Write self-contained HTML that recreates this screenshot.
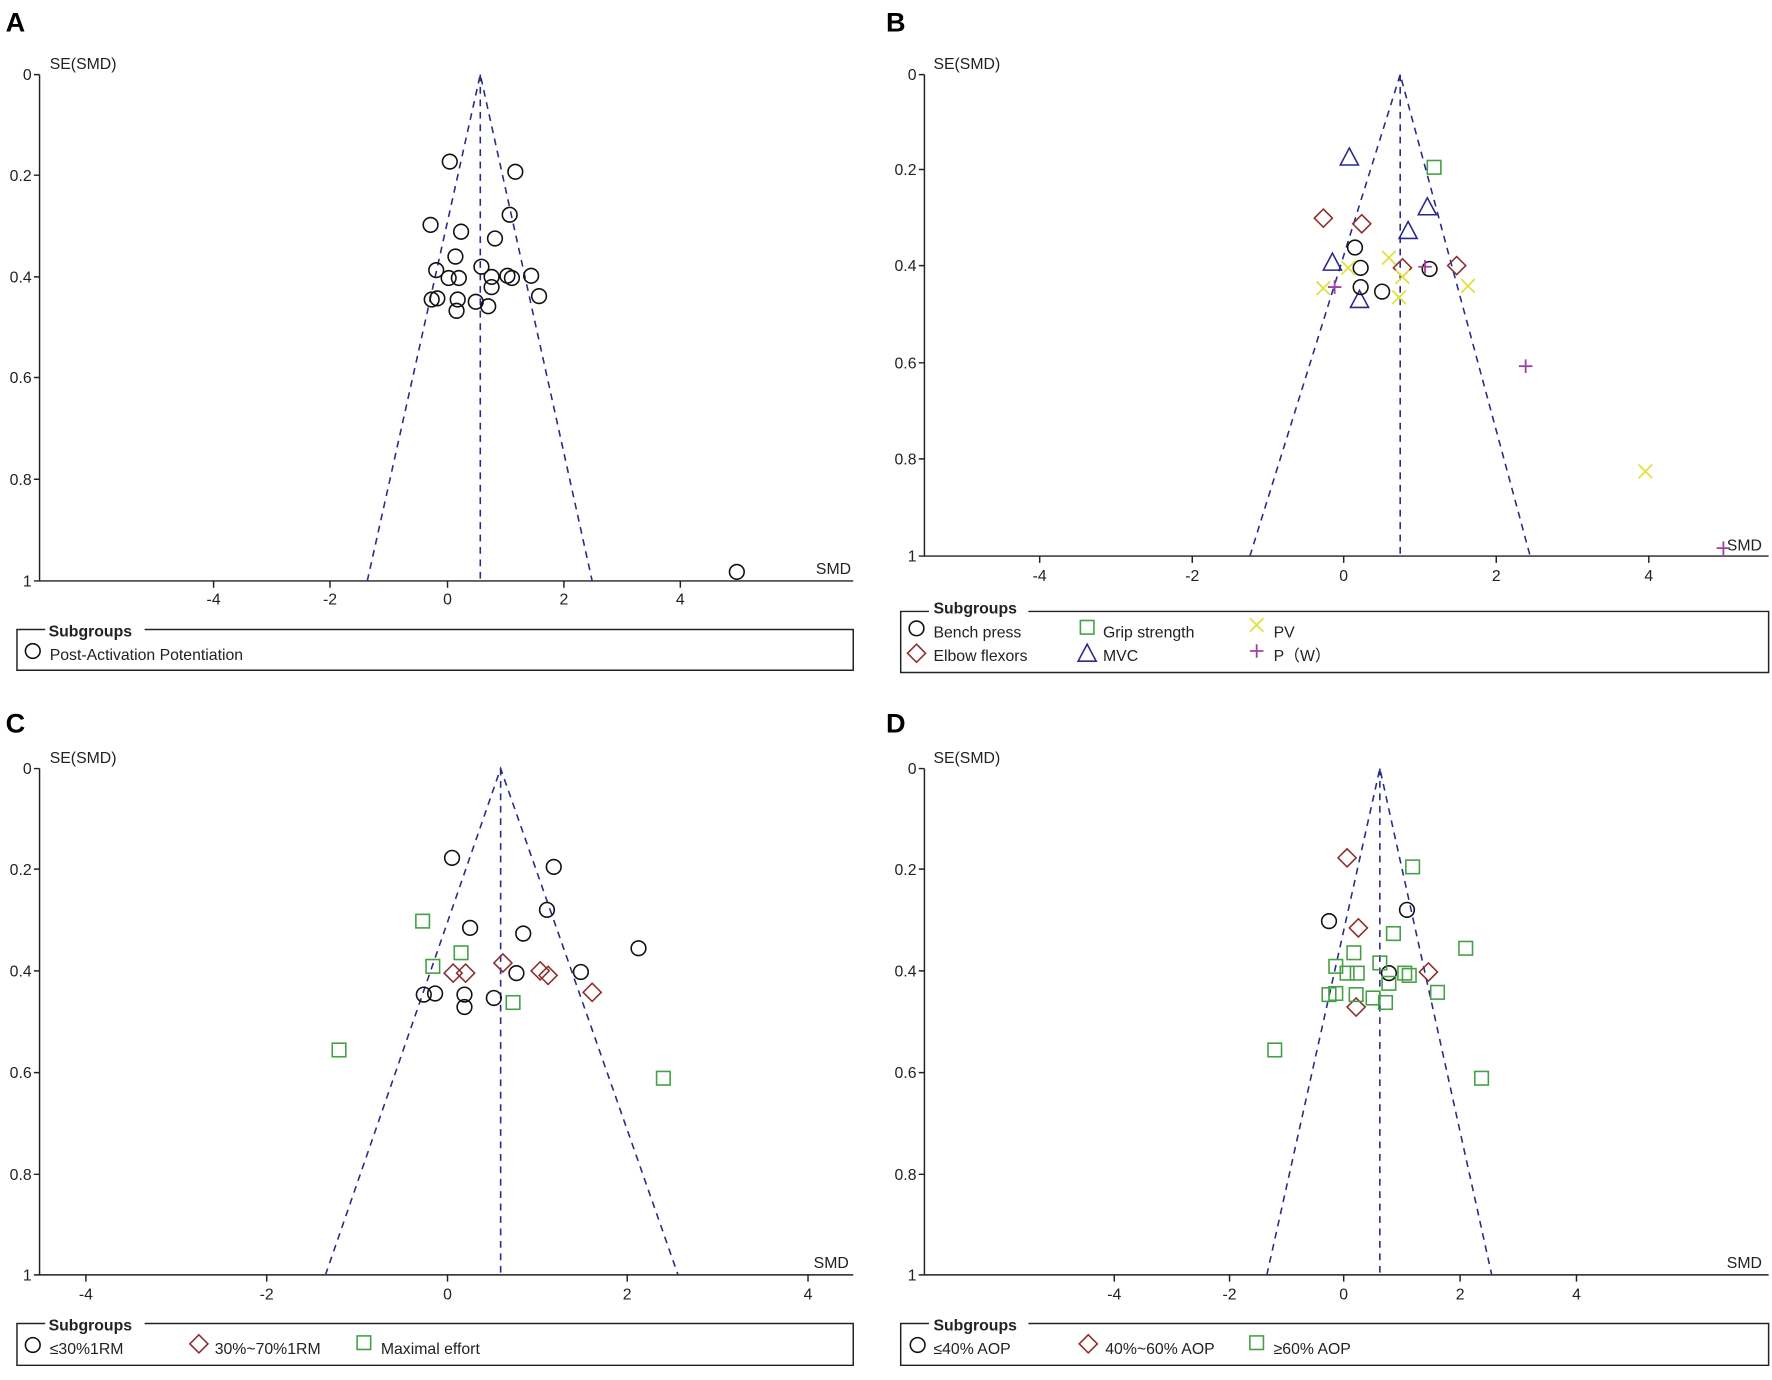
<!DOCTYPE html>
<html><head><meta charset="utf-8"><style>
html,body{margin:0;padding:0;background:#fff}
svg{display:block}
text{font-family:"Liberation Sans",sans-serif;font-size:14px;fill:#222}
.lab{font-size:24px;font-weight:bold;fill:#000}
.b{font-weight:bold}
.ax{stroke:#222;stroke-width:1.3;fill:none}
.fn{stroke:#2a2a8a;stroke-width:1.4;stroke-dasharray:6,5;fill:none}
</style></head><body>
<svg width="1772" height="1380" viewBox="0 0 1568 1221" preserveAspectRatio="none">
<defs>
<g id="ci"><circle r="6.5" fill="none" stroke="#111" stroke-width="1.4"/></g>
<g id="di"><path d="M0,-8 L8,0 L0,8 L-8,0Z" fill="none" stroke="#8b3030" stroke-width="1.4"/></g>
<g id="sq"><rect x="-6" y="-6" width="12" height="12" fill="none" stroke="#44a044" stroke-width="1.4"/></g>
<g id="tr"><path d="M0,-9 L8,6 L-8,6Z" fill="none" stroke="#2a2a8a" stroke-width="1.4"/></g>
<g id="xx"><path d="M-6,-6 L6,6 M-6,6 L6,-6" stroke="#e0e040" stroke-width="1.6"/></g>
<g id="pl"><path d="M-6,0 L6,0 M0,-6 L0,6" stroke="#a040a0" stroke-width="1.6"/></g>
</defs>

<text class="lab" x="5" y="28">A</text>
<text class="lab" x="784" y="28">B</text>
<text class="lab" x="5" y="648">C</text>
<text class="lab" x="784" y="648">D</text>

<!-- ===== A ===== -->
<text x="44" y="61">SE(SMD)</text>
<path class="ax" d="M35,66 V514 H755"/>
<g class="ax"><path d="M30,66H35M30,155H35M30,245H35M30,334H35M30,424H35M30,514H35"/>
<path d="M189,514V520M292,514V520M396,514V520M499,514V520M602,514V520"/></g>
<g text-anchor="end"><text x="28" y="71">0</text><text x="28" y="160">0.2</text><text x="28" y="250">0.4</text><text x="28" y="339">0.6</text><text x="28" y="429">0.8</text><text x="28" y="519">1</text></g>
<g text-anchor="middle"><text x="189" y="535">-4</text><text x="292" y="535">-2</text><text x="396" y="535">0</text><text x="499" y="535">2</text><text x="602" y="535">4</text></g>
<text x="722" y="508">SMD</text>
<path class="fn" d="M325,514 L425,66 L524,514 M425,66 V514"/>
<g>
<use href="#ci" x="398" y="143"/><use href="#ci" x="456" y="152"/><use href="#ci" x="451" y="190"/><use href="#ci" x="381" y="199"/>
<use href="#ci" x="408" y="205"/><use href="#ci" x="438" y="211"/><use href="#ci" x="403" y="227"/><use href="#ci" x="426" y="236"/>
<use href="#ci" x="386" y="239"/><use href="#ci" x="397" y="246"/><use href="#ci" x="406" y="246"/><use href="#ci" x="435" y="245"/>
<use href="#ci" x="449" y="244"/><use href="#ci" x="453" y="246"/><use href="#ci" x="470" y="244"/><use href="#ci" x="435" y="254"/>
<use href="#ci" x="477" y="262"/><use href="#ci" x="382" y="265"/><use href="#ci" x="387" y="264"/><use href="#ci" x="405" y="265"/>
<use href="#ci" x="421" y="267"/><use href="#ci" x="432" y="271"/><use href="#ci" x="404" y="275"/><use href="#ci" x="652" y="506"/>
</g>
<path class="ax" d="M40,557 H15 V593 H755 V557 H128"/>
<text class="b" x="43" y="563">Subgroups</text>
<use href="#ci" x="29" y="576"/><text x="44" y="584">Post-Activation Potentiation</text>

<!-- ===== B ===== -->
<text x="826" y="61">SE(SMD)</text>
<path class="ax" d="M818,66 V492 H1565"/>
<g class="ax"><path d="M813,66H818M813,150H818M813,235H818M813,321H818M813,406H818M813,492H818"/>
<path d="M920,492V498M1055,492V498M1189,492V498M1324,492V498M1459,492V498"/></g>
<g text-anchor="end"><text x="811" y="71">0</text><text x="811" y="155">0.2</text><text x="811" y="240">0.4</text><text x="811" y="326">0.6</text><text x="811" y="411">0.8</text><text x="811" y="497">1</text></g>
<g text-anchor="middle"><text x="920" y="514">-4</text><text x="1055" y="514">-2</text><text x="1189" y="514">0</text><text x="1324" y="514">2</text><text x="1459" y="514">4</text></g>
<text x="1528" y="487">SMD</text>
<path class="fn" d="M1106,492 L1239,66 L1354,492 M1239,66 V492"/>
<g>
<use href="#tr" x="1194" y="140"/><use href="#tr" x="1263" y="184"/><use href="#tr" x="1246" y="205"/><use href="#tr" x="1179" y="233"/><use href="#tr" x="1203" y="266"/>
<use href="#sq" x="1269" y="148"/>
<use href="#di" x="1171" y="193"/><use href="#di" x="1205" y="198"/><use href="#di" x="1241" y="237"/><use href="#di" x="1289" y="235"/>
<use href="#ci" x="1199" y="219"/><use href="#ci" x="1204" y="237"/><use href="#ci" x="1204" y="254"/><use href="#ci" x="1223" y="258"/><use href="#ci" x="1265" y="238"/>
<use href="#xx" x="1229" y="228"/><use href="#xx" x="1193" y="237"/><use href="#xx" x="1171" y="255"/><use href="#xx" x="1241" y="245"/><use href="#xx" x="1238" y="263"/><use href="#xx" x="1299" y="253"/><use href="#xx" x="1456" y="417"/>
<use href="#pl" x="1181" y="254"/><use href="#pl" x="1261" y="236"/><use href="#pl" x="1350" y="324"/><use href="#pl" x="1525" y="485"/>
</g>
<path class="ax" d="M822,541 H797 V595 H1565 V541 H910"/>
<text class="b" x="826" y="543">Subgroups</text>
<use href="#ci" x="811" y="556"/><text x="826" y="564">Bench press</text>
<use href="#di" x="811" y="578"/><text x="826" y="585">Elbow flexors</text>
<use href="#sq" x="962" y="555"/><text x="976" y="564">Grip strength</text>
<use href="#tr" x="962" y="579"/><text x="976" y="585">MVC</text>
<use href="#xx" x="1112" y="553"/><text x="1127" y="564">PV</text>
<use href="#pl" x="1112" y="576"/><text x="1127" y="585">P（W）</text>

<!-- ===== C ===== -->
<text x="44" y="675">SE(SMD)</text>
<path class="ax" d="M35,680 V1128 H755"/>
<g class="ax"><path d="M30,680H35M30,769H35M30,859H35M30,949H35M30,1039H35M30,1128H35"/>
<path d="M76,1128V1134M236,1128V1134M396,1128V1134M555,1128V1134M715,1128V1134"/></g>
<g text-anchor="end"><text x="28" y="685">0</text><text x="28" y="774">0.2</text><text x="28" y="864">0.4</text><text x="28" y="954">0.6</text><text x="28" y="1044">0.8</text><text x="28" y="1133">1</text></g>
<g text-anchor="middle"><text x="76" y="1150">-4</text><text x="236" y="1150">-2</text><text x="396" y="1150">0</text><text x="555" y="1150">2</text><text x="715" y="1150">4</text></g>
<text x="720" y="1122">SMD</text>
<path class="fn" d="M288,1128 L443,680 L600,1128 M443,680 V1128"/>
<g>
<use href="#ci" x="400" y="759"/><use href="#ci" x="490" y="767"/><use href="#ci" x="484" y="805"/><use href="#ci" x="416" y="821"/><use href="#ci" x="463" y="826"/>
<use href="#ci" x="565" y="839"/><use href="#ci" x="457" y="861"/><use href="#ci" x="514" y="860"/><use href="#ci" x="375" y="880"/><use href="#ci" x="385" y="879"/>
<use href="#ci" x="411" y="880"/><use href="#ci" x="411" y="891"/><use href="#ci" x="437" y="883"/>
<use href="#sq" x="374" y="815"/><use href="#sq" x="408" y="843"/><use href="#sq" x="383" y="855"/><use href="#sq" x="454" y="887"/><use href="#sq" x="300" y="929"/><use href="#sq" x="587" y="954"/>
<use href="#di" x="401" y="861"/><use href="#di" x="412" y="861"/><use href="#di" x="445" y="852"/><use href="#di" x="478" y="859"/><use href="#di" x="485" y="863"/><use href="#di" x="524" y="878"/>
</g>
<path class="ax" d="M40,1171 H15 V1208 H755 V1171 H128"/>
<text class="b" x="43" y="1177">Subgroups</text>
<use href="#ci" x="29" y="1190"/><text x="44" y="1198">≤30%1RM</text>
<use href="#di" x="176" y="1189"/><text x="190" y="1198">30%~70%1RM</text>
<use href="#sq" x="322" y="1188"/><text x="337" y="1198">Maximal effort</text>

<!-- ===== D ===== -->
<text x="826" y="675">SE(SMD)</text>
<path class="ax" d="M818,680 V1128 H1565"/>
<g class="ax"><path d="M813,680H818M813,769H818M813,859H818M813,949H818M813,1039H818M813,1128H818"/>
<path d="M986,1128V1134M1088,1128V1134M1189,1128V1134M1292,1128V1134M1395,1128V1134"/></g>
<g text-anchor="end"><text x="811" y="685">0</text><text x="811" y="774">0.2</text><text x="811" y="864">0.4</text><text x="811" y="954">0.6</text><text x="811" y="1044">0.8</text><text x="811" y="1133">1</text></g>
<g text-anchor="middle"><text x="986" y="1150">-4</text><text x="1088" y="1150">-2</text><text x="1189" y="1150">0</text><text x="1292" y="1150">2</text><text x="1395" y="1150">4</text></g>
<text x="1528" y="1122">SMD</text>
<path class="fn" d="M1121,1128 L1221,680 L1320,1128 M1221,680 V1128"/>
<g>
<use href="#ci" x="1176" y="815"/><use href="#ci" x="1245" y="805"/><use href="#ci" x="1229" y="861"/>
<use href="#di" x="1192" y="759"/><use href="#di" x="1202" y="821"/><use href="#di" x="1264" y="860"/><use href="#di" x="1200" y="891"/>
<use href="#sq" x="1250" y="767"/><use href="#sq" x="1233" y="826"/><use href="#sq" x="1297" y="839"/><use href="#sq" x="1198" y="843"/>
<use href="#sq" x="1182" y="855"/><use href="#sq" x="1221" y="852"/><use href="#sq" x="1192" y="861"/><use href="#sq" x="1201" y="861"/>
<use href="#sq" x="1243" y="861"/><use href="#sq" x="1247" y="863"/><use href="#sq" x="1229" y="870"/><use href="#sq" x="1176" y="880"/>
<use href="#sq" x="1182" y="879"/><use href="#sq" x="1200" y="880"/><use href="#sq" x="1215" y="883"/><use href="#sq" x="1226" y="887"/>
<use href="#sq" x="1272" y="878"/><use href="#sq" x="1128" y="929"/><use href="#sq" x="1311" y="954"/>
</g>
<path class="ax" d="M822,1171 H797 V1208 H1565 V1171 H910"/>
<text class="b" x="826" y="1177">Subgroups</text>
<use href="#ci" x="812" y="1190"/><text x="826" y="1198">≤40% AOP</text>
<use href="#di" x="963" y="1189"/><text x="978" y="1198">40%~60% AOP</text>
<use href="#sq" x="1112" y="1188"/><text x="1127" y="1198">≥60% AOP</text>
</svg>
</body></html>
